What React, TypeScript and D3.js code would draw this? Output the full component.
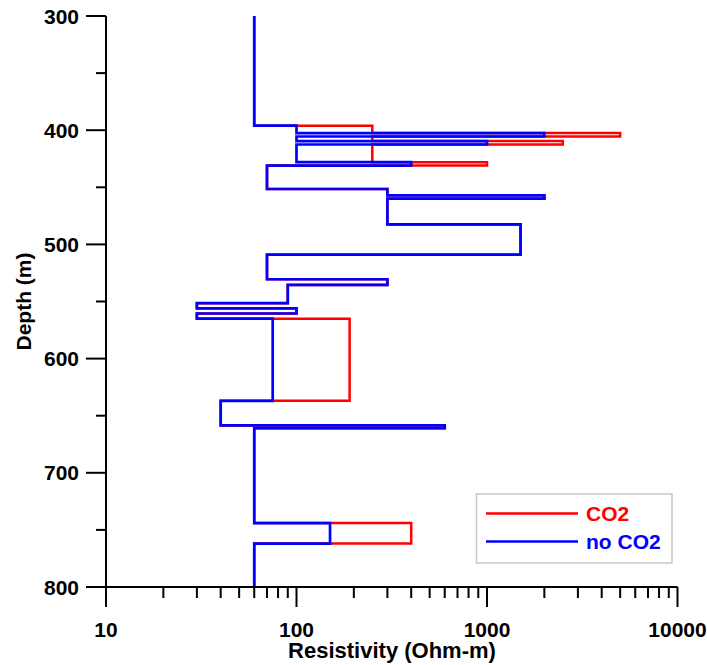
import React from "react";
import * as d3 from "d3";

// Layer boundaries (depth, m) shared by both curves
const depthBounds = [300, 396, 402.5, 405.5, 409.5, 412.5, 428, 431, 451.5, 457, 460, 482.5, 509, 530.5, 535.5, 551.5, 556, 560.5, 565, 637, 658.5, 661, 744, 762, 800];
// Resistivity per layer (Ohm-m)
const noCO2 = [60, 100, 2000, 100, 1000, 100, 400, 70, 300, 2000, 300, 1500, 70, 300, 90, 30, 100, 30, 75, 40, 600, 60, 150, 60];
const withCO2 = [60, 250, 5000, 250, 2500, 250, 1000, 70, 300, 2000, 300, 1500, 70, 300, 90, 30, 100, 30, 190, 40, 600, 60, 400, 60];

const xTickLabels = [10, 100, 1000, 10000];
const yTickLabels = [300, 400, 500, 600, 700, 800];
const yMinorTicks = [350, 450, 550, 650, 750];
const legendItems = [
  { label: "CO2", color: "#ff0000" },
  { label: "no CO2", color: "#0000ff" },
];

const W = 707;
const H = 665;
const FONT = "'Liberation Sans', Arial, sans-serif";

export default function App() {
  const x = d3.scaleLog().domain([10, 10000]).range([106, 677.5]);
  const y = d3.scaleLinear().domain([300, 800]).range([16, 587]);

  const stepPoints = (vals: number[]) => {
    const pts: [number, number][] = [];
    vals.forEach((v, i) => {
      pts.push([v, depthBounds[i]]);
      pts.push([v, depthBounds[i + 1]]);
    });
    return pts;
  };
  const line = d3
    .line<[number, number]>()
    .x((d) => x(d[0]))
    .y((d) => y(d[1]));

  const xMinor: number[] = [];
  for (let dec = 10; dec < 10000; dec *= 10) {
    for (let k = 2; k <= 9; k++) xMinor.push(dec * k);
  }

  const x0 = x(10);
  const yBottom = y(800);

  return (
    <svg width={W} height={H} style={{ position: "absolute", left: 0, top: 0 }} fontFamily={FONT}>
      <rect width={W} height={H} fill="#fff" />
      {/* curves */}
      <path d={line(stepPoints(withCO2)) || ""} fill="none" stroke="#ff0000" strokeWidth={2.5} strokeLinejoin="miter" />
      <path d={line(stepPoints(noCO2)) || ""} fill="none" stroke="#0000ff" strokeWidth={2.7} strokeLinejoin="miter" />

      {/* y axis */}
      <line x1={x0} x2={x0} y1={y(300)} y2={yBottom + 20} stroke="#000" strokeWidth={2} />
      {yTickLabels.map((t) => (
        <g key={"yt" + t}>
          <line x1={x0 - 20} x2={x0} y1={y(t)} y2={y(t)} stroke="#000" strokeWidth={2} />
          <text x={x0 - 27} y={y(t)} dy="0.36em" textAnchor="end" fontSize={21} fontWeight="bold">
            {t}
          </text>
        </g>
      ))}
      {yMinorTicks.map((t) => (
        <line key={"ym" + t} x1={x0 - 10} x2={x0} y1={y(t)} y2={y(t)} stroke="#000" strokeWidth={2} />
      ))}

      {/* x axis */}
      <line x1={x0} x2={x(10000)} y1={yBottom} y2={yBottom} stroke="#000" strokeWidth={2} />
      {xTickLabels.map((t) => (
        <g key={"xt" + t}>
          <line x1={x(t)} x2={x(t)} y1={yBottom} y2={yBottom + 20} stroke="#000" strokeWidth={2} />
          <text x={x(t)} y={637} textAnchor="middle" fontSize={21} fontWeight="bold">
            {t}
          </text>
        </g>
      ))}
      {xMinor.map((t) => (
        <line key={"xm" + t} x1={x(t)} x2={x(t)} y1={yBottom} y2={yBottom + 11} stroke="#000" strokeWidth={2} />
      ))}

      {/* axis titles */}
      <text x={392} y={658} textAnchor="middle" fontSize={22} fontWeight="bold">
        Resistivity (Ohm-m)
      </text>
      <text transform={`translate(31, ${(y(300) + y(800)) / 2}) rotate(-90)`} textAnchor="middle" fontSize={21} fontWeight="bold">
        Depth (m)
      </text>

      {/* legend */}
      <rect x={476.5} y={494} width={195.5} height={69} fill="#fff" stroke="#c8c8c8" strokeWidth={1.5} />
      {legendItems.map((it, i) => (
        <g key={it.label}>
          <line x1={486} x2={578} y1={513.5 + i * 28} y2={513.5 + i * 28} stroke={it.color} strokeWidth={2.5} />
          <text x={586} y={513.5 + i * 28} dy="0.36em" fontSize={21} fontWeight="bold" fill={it.color}>
            {it.label}
          </text>
        </g>
      ))}
    </svg>
  );
}
